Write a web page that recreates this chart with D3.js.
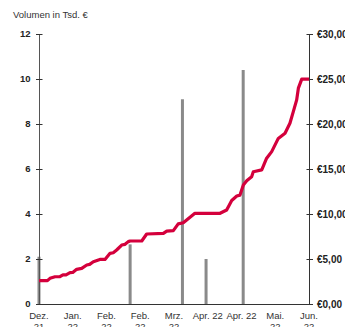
<!DOCTYPE html>
<html><head><meta charset="utf-8">
<script src="https://cdn.jsdelivr.net/npm/d3@7"></script>
<style>
html,body{margin:0;padding:0;background:#fff;}
svg{display:block;font-family:"Liberation Sans",Arial,sans-serif;}
</style></head>
<body><svg id="c" width="345" height="327"></svg>
<script>
// Days since 31.12.2021
const tickDays = [0,20,40,60,80,100,120,140,160];
const tickLabels = [["Dez.","21"],["Jan.","22"],["Feb.","22"],["Feb.","22"],["Mrz.","22"],["Apr. 22"],["Apr. 22"],["Mai.","22"],["Jun.","22"]];
// Volume bars (Tsd. €)
const barDays = [0,54,85,99,121];
const barVolumes = [2.1,2.65,9.1,2.0,10.4];
// Price line (€)
const lineDays = [0,5,6.5,9.5,12.4,14.2,16,18.4,20,22.3,25.3,28.3,30,32.2,36.1,39.1,42.1,44,46,49,51,52.9,54,60.9,63.8,73.7,75.7,79.6,82.5,85.5,92.4,107.3,111.2,114.2,117.2,119.1,121.1,123.1,126,127,132,134.9,137.9,141.8,145.8,148.7,150.7,152.7,153.7,155.7,160];
const linePrices = [2.60,2.60,2.85,3.03,3.03,3.23,3.23,3.48,3.50,3.85,3.95,4.33,4.40,4.70,4.95,4.95,5.63,5.70,6.00,6.55,6.63,6.93,7.00,7.00,7.78,7.85,8.10,8.15,8.90,9.03,10.08,10.08,10.45,11.50,12.00,12.10,13.23,13.70,14.15,14.70,14.90,16.20,16.93,18.40,18.98,20.08,21.38,22.68,23.98,24.98,24.98];
const leftTicks = [0,2,4,6,8,10,12];
const rightTicks = [0,5,10,15,20,25,30];

const svg = d3.select("#c");
const x = d3.scaleLinear().domain([0,160]).range([39,309]);
const yL = d3.scaleLinear().domain([0,12]).range([304,34]);
const yR = d3.scaleLinear().domain([0,30]).range([304,34]);
const axisCol = "#333";

// bars
svg.append("g").selectAll("rect").data(barDays).join("rect")
  .attr("x", (d)=>x(d)-1.5).attr("width",3)
  .attr("y",(d,i)=>yL(barVolumes[i])).attr("height",(d,i)=>yL(0)-yL(barVolumes[i]))
  .attr("fill","#8a8a8a");

// x axis line
svg.append("line").attr("x1",x(0)).attr("x2",x(160)).attr("y1",304.5).attr("y2",304.5)
  .attr("stroke",axisCol).attr("stroke-width",1);

// left axis
const gl = svg.append("g").attr("transform","translate(39.5,0)");
gl.append("line").attr("y1",yL(12)).attr("y2",yL(0)).attr("stroke","#555").attr("stroke-width",1);
gl.selectAll("line.t").data(leftTicks).join("line").attr("class","t")
  .attr("x1",-3.5).attr("x2",3).attr("y1",d=>Math.round(yL(d))+0.5).attr("y2",d=>Math.round(yL(d))+0.5)
  .attr("stroke",axisCol);
gl.selectAll("text").data(leftTicks).join("text")
  .attr("x",-9).attr("y",d=>yL(d)).attr("dy","0.35em").attr("text-anchor","end")
  .attr("font-size",9.5).attr("font-weight","bold").attr("fill","#222").text(d=>d);

// right axis
const gr = svg.append("g").attr("transform","translate(309.5,0)");
gr.append("line").attr("y1",yR(30)).attr("y2",yR(0)).attr("stroke",axisCol).attr("stroke-width",1);
gr.selectAll("line.t").data(rightTicks).join("line").attr("class","t")
  .attr("x1",-3).attr("x2",3.5).attr("y1",d=>Math.round(yR(d))+0.5).attr("y2",d=>Math.round(yR(d))+0.5)
  .attr("stroke",axisCol);
const fmtEur = d=>"€"+d.toFixed(2).replace(".",",");
gr.selectAll("text").data(rightTicks).join("text")
  .attr("x",7.5).attr("y",d=>yR(d)).attr("dy","0.35em")
  .attr("font-size",10).attr("font-weight","bold").attr("fill","#222").text(fmtEur);

// x tick labels
const gx = svg.append("g");
gx.selectAll("text").data(tickDays).join("text")
  .attr("x",d=>x(d)).attr("y",319).attr("text-anchor","middle")
  .attr("font-size",9.5).attr("fill","#333")
  .each(function(d,i){
    const t = d3.select(this);
    tickLabels[i].forEach((s,j)=>{
      t.append("tspan").attr("x",x(d)).attr("dy", j===0?0:11).text(s);
    });
  });

// price line
const line = d3.line().x((d,i)=>x(lineDays[i])).y((d,i)=>yR(linePrices[i]));
svg.append("path").datum(linePrices).attr("d",line)
  .attr("fill","none").attr("stroke","#d4003c").attr("stroke-width",3.2)
  .attr("stroke-linejoin","round");

// title
svg.append("text").attr("x",13).attr("y",18).attr("font-size",9.5).attr("fill","#333")
  .text("Volumen in Tsd. €");
</script></body></html>
